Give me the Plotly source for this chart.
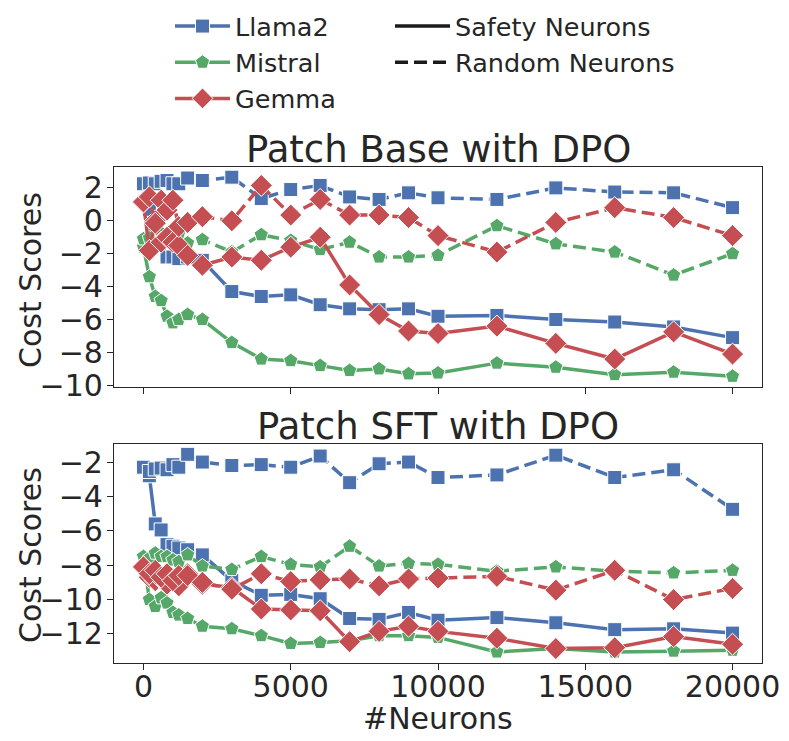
import plotly.graph_objects as go

# ---------------- data ----------------
neurons = [0, 200, 400, 600, 800, 1000, 1200, 1500, 2000, 3000, 4000, 5000,
           6000, 7000, 8000, 9000, 10000, 12000, 14000, 16000, 18000, 20000]

models = ["Llama2", "Mistral", "Gemma"]

# Patch Base with DPO
base_llama_safety = [2.25, 0.7, -0.5, -1.2, -2.2, -2.2, -2.3, -2.2, -2.4, -4.3, -4.6, -4.5,
                     -5.1, -5.35, -5.4, -5.35, -5.8, -5.75, -6.0, -6.15, -6.45, -7.1]
base_llama_random = [2.25, 2.3, 2.25, 2.4, 2.45, 2.25, 2.25, 2.6, 2.45, 2.65, 1.35, 1.9,
                     2.15, 1.45, 1.3, 1.7, 1.4, 1.3, 2.0, 1.75, 1.7, 0.8]
base_mistral_safety = [-1.6, -3.4, -4.6, -4.85, -5.8, -6.2, -6.0, -5.7, -6.0, -7.4, -8.4, -8.5,
                       -8.8, -9.1, -9.0, -9.3, -9.25, -8.65, -8.9, -9.35, -9.2, -9.45]
base_mistral_random = [-1.1, -1.05, -1.35, -0.75, -1.25, -0.65, -0.8, -1.35, -1.15, -1.9, -0.85, -1.2,
                       -1.75, -1.3, -2.2, -2.2, -2.1, -0.3, -1.4, -1.9, -3.3, -2.0]
base_gemma_safety = [1.15, -1.8, 0.0, -1.3, -1.0, -1.3, -1.5, -2.1, -2.7, -2.2, -2.4, -1.6,
                     -1.0, -3.9, -5.7, -6.7, -6.85, -6.4, -7.45, -8.4, -6.75, -8.1]
base_gemma_random = [1.15, 1.45, -0.15, 1.25, 0.65, 1.25, -0.35, -0.1, 0.25, 0.0, 2.15, 0.35,
                     1.3, 0.35, 0.35, 0.2, -0.9, -1.9, -0.1, 0.8, 0.2, -0.9]

# Patch SFT with DPO
sft_llama_safety = [-2.3, -2.8, -5.6, -5.95, -6.8, -6.9, -7.0, -7.1, -7.4, -8.9, -9.75, -9.7,
                    -9.95, -11.1, -11.15, -10.75, -11.2, -11.05, -11.35, -11.75, -11.7, -11.95]
sft_llama_random = [-2.3, -2.55, -2.4, -2.35, -2.45, -2.15, -2.3, -1.55, -2.0, -2.2, -2.15, -2.3,
                    -1.65, -3.2, -2.1, -2.0, -2.9, -2.75, -1.6, -2.9, -2.45, -4.75]
sft_mistral_safety = [-7.5, -10.0, -10.4, -9.9, -10.2, -10.75, -10.9, -11.1, -11.55, -11.7, -12.1, -12.55,
                      -12.5, -12.4, -12.1, -12.1, -12.2, -13.05, -12.85, -13.05, -13.0, -12.95]
sft_mistral_random = [-7.5, -7.6, -7.3, -7.5, -7.5, -7.7, -7.8, -7.4, -8.05, -8.25, -7.5, -7.95,
                      -8.1, -6.9, -8.05, -7.9, -7.95, -8.35, -8.1, -8.35, -8.45, -8.3]
sft_gemma_safety = [-8.1, -8.7, -8.9, -8.8, -9.1, -8.8, -9.2, -8.5, -9.1, -9.3, -10.55, -10.6,
                    -10.65, -12.45, -11.85, -11.55, -11.85, -12.25, -12.85, -12.8, -12.15, -12.6]
sft_gemma_random = [-8.1, -8.5, -8.3, -8.7, -8.5, -8.9, -8.6, -8.6, -9.0, -9.4, -8.5, -8.95,
                    -8.85, -8.8, -9.2, -8.8, -8.75, -8.65, -9.45, -8.3, -10.0, -9.35]

panel_titles = ["Patch Base with DPO", "Patch SFT with DPO"]
y_title = "Cost Scores"
x_title = "#Neurons"
x_ticks = [0, 5000, 10000, 15000, 20000]
top_y_ticks = [-10, -8, -6, -4, -2, 0, 2]
bot_y_ticks = [-12, -10, -8, -6, -4, -2]

# ---------------- style ----------------
colors = {"Llama2": "#4C72B0", "Mistral": "#55A868", "Gemma": "#C44E52"}
symbols = {"Llama2": "square", "Mistral": "pentagon", "Gemma": "diamond"}
msize = {"Llama2": 14, "Mistral": 15, "Gemma": 17}
FONT = "DejaVu Sans"
TXT = "#262626"
LW = 3.5
DASH = "13px,6px"

panels = [
    {m: (s, r) for m, s, r in zip(models,
        [base_llama_safety, base_mistral_safety, base_gemma_safety],
        [base_llama_random, base_mistral_random, base_gemma_random])},
    {m: (s, r) for m, s, r in zip(models,
        [sft_llama_safety, sft_mistral_safety, sft_gemma_safety],
        [sft_llama_random, sft_mistral_random, sft_gemma_random])},
]

fig = go.Figure()
for pi, panel in enumerate(panels):
    xa = "x" if pi == 0 else "x2"
    ya = "y" if pi == 0 else "y2"
    for m in models:
        safety, random_ = panel[m]
        for vals, dash in ((safety, "solid"), (random_, DASH)):
            fig.add_trace(go.Scatter(
                x=neurons, y=vals, xaxis=xa, yaxis=ya, mode="lines+markers",
                line=dict(color=colors[m], width=LW, dash=dash),
                marker=dict(symbol=symbols[m], size=msize[m], color=colors[m],
                            line=dict(color="white", width=1)),
                showlegend=False, hoverinfo="skip"))

# legend entries (legend 1: models, legend 2: neuron type)
for m in models:
    fig.add_trace(go.Scatter(
        x=[None], y=[None], mode="lines+markers", name=m, legend="legend",
        line=dict(color=colors[m], width=LW),
        marker=dict(symbol=symbols[m], size=msize[m], color=colors[m],
                    line=dict(color="white", width=1))))
for name, dash in (("Safety Neurons", "solid"), ("Random Neurons", DASH)):
    fig.add_trace(go.Scatter(
        x=[None], y=[None], mode="lines", name=name, legend="legend2",
        line=dict(color="#1a1a1a", width=LW, dash=dash)))

axis_common = dict(showline=True, linecolor=TXT, linewidth=1.25, mirror=True,
                   showgrid=False, zeroline=False, ticks="outside", ticklen=6,
                   tickwidth=1.25, tickcolor=TXT, automargin=False,
                   tickfont=dict(family=FONT, size=30, color=TXT))

# page has an 8px body margin: figure pixel = page pixel - OFF
OFF = 8
W, H = 789 - OFF, 741 - OFF
L, R, T, B = 114 - OFF, 762 - OFF, 167 - OFF, 663 - OFF   # frame edges (fig px)
PW, PH = R - L, B - T


def px_x(page_px):
    return (page_px - OFF - L) / PW


def px_y(page_py):
    return 1 - (page_py - OFF - T) / PH


top_dom = [px_y(387), 1.0]
bot_dom = [0.0, px_y(444)]

fig.update_layout(
    width=W, height=H,
    margin=dict(l=L, r=W - R, t=T, b=H - B, autoexpand=False),
    paper_bgcolor="white", plot_bgcolor="white",
    font=dict(family=FONT, color=TXT),
    xaxis=dict(domain=[0, 1], anchor="y", range=[-1000, 21000], tickvals=x_ticks,
               showticklabels=False, **axis_common),
    xaxis2=dict(domain=[0, 1], anchor="y2", range=[-1000, 21000], tickvals=x_ticks,
                tickformat="d", ticklabelstandoff=-9, **axis_common),
    yaxis=dict(domain=top_dom, anchor="x", range=[-10.1, 3.27], tickvals=top_y_ticks,
               ticklabelstandoff=-2, **axis_common),
    yaxis2=dict(domain=bot_dom, anchor="x2", range=[-13.69, -0.95], tickvals=bot_y_ticks,
                ticklabelstandoff=-2, **axis_common),
    legend=dict(x=px_x(170), y=px_y(3), xanchor="left", yanchor="top", orientation="v",
                font=dict(family=FONT, size=25.5, color=TXT), bgcolor="rgba(0,0,0,0)",
                itemwidth=55, tracegroupgap=0),
    legend2=dict(x=px_x(390), y=px_y(3), xanchor="left", yanchor="top", orientation="v",
                 font=dict(family=FONT, size=25.5, color=TXT), bgcolor="rgba(0,0,0,0)",
                 itemwidth=55, tracegroupgap=0),
    annotations=[
        dict(text=panel_titles[0], xref="paper", yref="paper", x=0.5, y=top_dom[1],
             xanchor="center", yanchor="bottom", yshift=-6, showarrow=False,
             font=dict(family=FONT, size=37, color=TXT)),
        dict(text=panel_titles[1], xref="paper", yref="paper", x=0.5, y=bot_dom[1],
             xanchor="center", yanchor="bottom", yshift=-6, showarrow=False,
             font=dict(family=FONT, size=37, color=TXT)),
        dict(text=y_title, xref="paper", yref="paper", x=px_x(30), y=px_y(280),
             xanchor="center", yanchor="middle", textangle=-90, showarrow=False,
             font=dict(family=FONT, size=30, color=TXT)),
        dict(text=y_title, xref="paper", yref="paper", x=px_x(30), y=px_y(555),
             xanchor="center", yanchor="middle", textangle=-90, showarrow=False,
             font=dict(family=FONT, size=30, color=TXT)),
        dict(text=x_title, xref="paper", yref="paper", x=0.5, y=px_y(718),
             xanchor="center", yanchor="middle", showarrow=False,
             font=dict(family=FONT, size=30, color=TXT)),
    ],
)

fig.write_html("out.html")
